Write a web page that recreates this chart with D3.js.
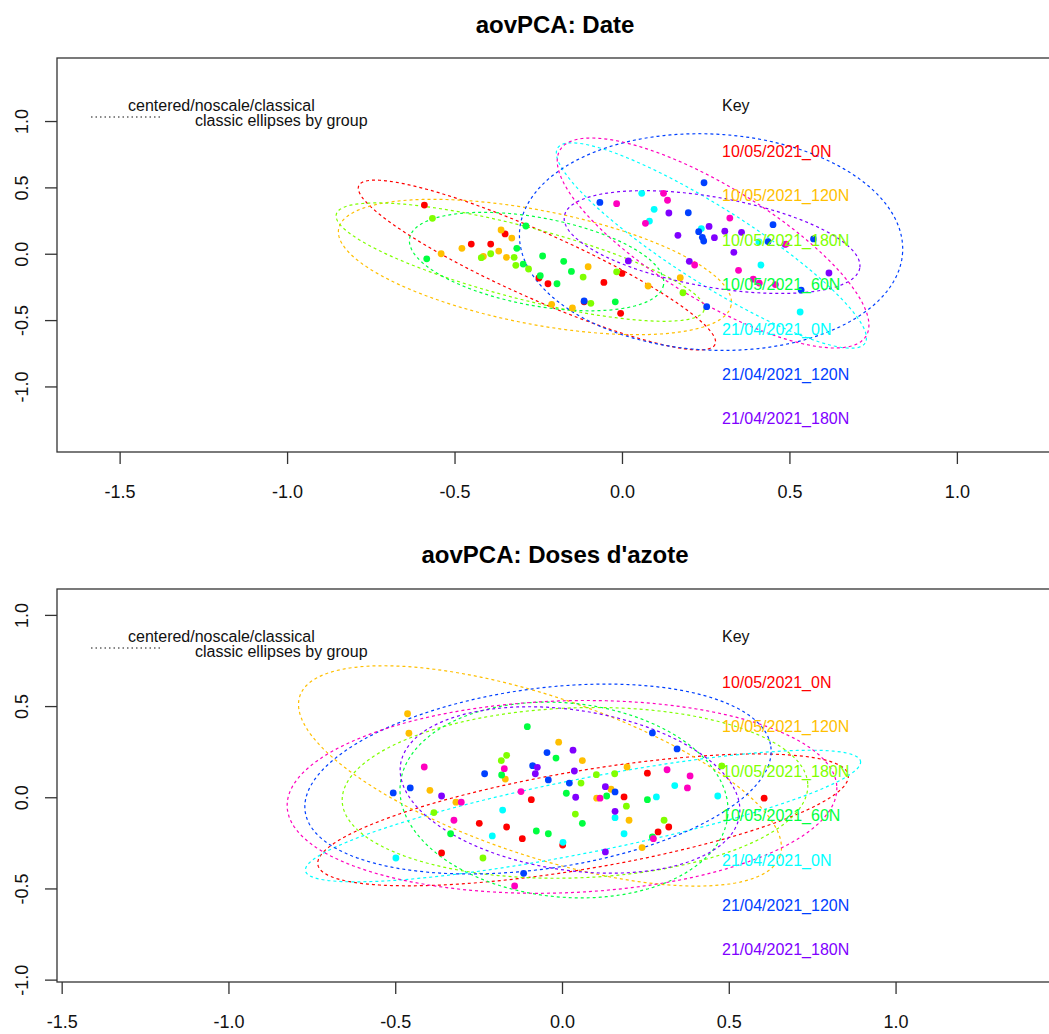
<!DOCTYPE html>
<html>
<head>
<meta charset="utf-8">
<script src="https://cdn.jsdelivr.net/npm/d3@7"></script>
<style>
  body { margin: 0; background: #fff; }
  text { font-family: "Liberation Sans", Arial, sans-serif; }
</style>
</head>
<body>
<svg id="chart"></svg>
<script>
// groups and their colours (rainbow of 8)
const groups = ["10/05/2021_0N", "10/05/2021_120N", "10/05/2021_180N", "10/05/2021_60N",
                "21/04/2021_0N", "21/04/2021_120N", "21/04/2021_180N", "21/04/2021_60N"]
const colours = ["#FF0000", "#FFBF00", "#80FF00", "#00FF40", "#00FFFF", "#0040FF", "#8000FF", "#FF00BF"]

const xTicks = [-1.5, -1.0, -0.5, 0.0, 0.5, 1.0, 1.5]
const yTicks = [-1.0, -0.5, 0.0, 0.5, 1.0]

// scores per group, panel "Date"  [x, y]
const dateScores = [
  [[-0.590,0.367],[-0.349,0.149],[-0.450,0.073],[-0.392,0.073],[-0.248,-0.183],[-0.221,-0.226],[-0.054,-0.216],[-0.113,-0.362],[-0.004,-0.449],[0.000,-0.148]],
  [[-0.361,0.179],[-0.329,0.118],[-0.478,0.041],[-0.368,0.020],[-0.540,0.000],[-0.414,-0.020],[-0.345,-0.027],[-0.101,-0.098],[0.078,-0.243],[-0.210,-0.381],[-0.148,-0.409],[0.174,-0.181]],
  [[-0.566,0.267],[-0.392,0.000],[-0.420,-0.030],[-0.322,-0.027],[-0.317,-0.087],[-0.279,-0.115],[-0.116,-0.176],[-0.016,-0.136],[-0.093,-0.374],[0.182,-0.294]],
  [[-0.287,0.209],[-0.314,0.041],[-0.583,-0.038],[-0.237,-0.017],[-0.174,-0.057],[-0.295,-0.078],[-0.151,-0.133],[-0.244,-0.166],[-0.194,-0.226],[-0.020,-0.362]],
  [[0.059,0.455],[0.096,0.335],[0.082,0.246],[0.237,0.190],[0.409,0.090],[0.415,-0.085],[0.532,-0.439]],
  [[-0.066,0.387],[0.245,0.535],[0.198,0.309],[0.229,0.166],[0.240,0.124],[0.244,0.096],[0.451,0.219],[0.436,0.092],[0.572,0.112],[0.535,-0.274],[0.253,-0.399],[-0.113,-0.356]],
  [[0.140,0.307],[0.260,0.206],[0.307,0.170],[0.357,0.161],[0.167,0.139],[0.276,0.121],[0.487,0.071],[0.334,0.011],[0.019,-0.054],[0.201,-0.057],[0.618,-0.145]],
  [[0.124,0.455],[-0.016,0.377],[0.136,0.403],[0.070,0.229],[0.322,0.269],[0.490,0.073],[0.217,-0.085],[0.348,-0.125],[0.392,-0.192],[0.410,-0.221],[0.458,-0.232]]
]
// ellipse per group: centre x, centre y, axis1 (dx, dy), axis2 (dx, dy)
const dateEllipses = [
  [-0.254,-0.085, 0.532,-0.598, -0.040,-0.227],
  [-0.260,-0.100, 0.586,-0.288, -0.032,-0.421],
  [-0.304,-0.063, 0.549,-0.361, -0.027,-0.262],
  [-0.255,-0.059, 0.379,-0.177, -0.024,-0.326],
  [ 0.267, 0.062, 0.459,-0.735, -0.061,-0.242],
  [ 0.266, 0.088, 0.572,-0.076, -0.017,-0.813],
  [ 0.269, 0.088, 0.441,-0.196, -0.023,-0.334],
  [ 0.272, 0.081, 0.457,-0.701, -0.088,-0.367]
]

// scores per group, panel "Doses d'azote"
const dosesScores = [
  [[-0.092,-0.013],[-0.248,-0.143],[-0.166,-0.163],[-0.119,-0.227],[0.002,-0.262],[-0.361,-0.305],[0.256,0.132],[0.186,0.002],[0.320,-0.163],[0.288,-0.190],[0.606,-0.005]],
  [[-0.463,0.458],[-0.459,0.351],[-0.010,0.302],[-0.170,0.100],[-0.396,0.038],[-0.318,-0.027],[0.061,0.201],[0.195,0.166],[0.147,0.044],[0.104,-0.005],[0.201,-0.126],[0.240,-0.276]],
  [[-0.166,0.230],[-0.182,0.201],[-0.384,-0.084],[0.040,-0.092],[-0.237,-0.333],[0.103,0.124],[0.158,0.129],[0.057,0.078],[0.193,-0.049],[0.306,-0.126],[0.479,0.172]],
  [[-0.104,0.387],[-0.018,0.215],[-0.181,0.122],[0.013,0.022],[-0.334,-0.200],[-0.077,-0.185],[-0.041,-0.200],[0.134,0.007],[0.256,-0.013],[0.061,-0.143],[0.271,-0.218]],
  [[-0.178,-0.070],[-0.209,-0.212],[0.003,-0.247],[-0.498,-0.333],[0.338,0.064],[0.283,0.002],[0.467,0.007],[0.159,-0.112],[0.186,-0.200]],
  [[-0.045,0.245],[-0.232,0.129],[-0.088,0.173],[-0.041,0.095],[0.022,0.078],[-0.506,0.024],[-0.455,0.051],[-0.115,-0.417],[0.271,0.353],[0.345,0.265],[0.159,0.029]],
  [[0.033,0.258],[-0.074,0.164],[-0.080,0.129],[0.037,0.144],[-0.361,0.007],[0.041,0.000],[0.130,0.058],[0.159,-0.077],[0.130,-0.300]],
  [[-0.413,0.166],[-0.173,0.157],[-0.123,0.031],[-0.302,-0.027],[-0.324,-0.126],[-0.142,-0.486],[0.114,-0.005],[0.315,0.151],[0.384,0.117],[0.376,0.051],[0.274,-0.227]]
]
const dosesEllipses = [
  [ 0.063,-0.124, 0.795, 0.246,  0.025,-0.265],
  [-0.066, 0.117, 0.720,-0.438, -0.076,-0.416],
  [ 0.039, 0.024, 0.698, 0.045,  0.009,-0.466],
  [ 0.006,-0.015, 0.491,-0.085, -0.027,-0.530],
  [ 0.063,-0.103, 0.832, 0.301,  0.022,-0.199],
  [-0.072, 0.100, 0.698, 0.179,  0.038,-0.489],
  [ 0.024, 0.040, 0.508,-0.141, -0.036,-0.434],
  [ 0.000, 0.002, 0.824, 0.053,  0.010,-0.526]
]

let width = 1049
let height = 1034

let svg = d3.select('#chart').attr('width', width).attr('height', height)

let panels = [
  {title: "aovPCA: Date", titleY: 25, top: 58, bottom: 452, xDomain: [-1.687, 1.287], yDomain: [-1.494, 1.475],
   scores: dateScores, ellipses: dateEllipses},
  {title: "aovPCA: Doses d'azote", titleY: 555, top: 589, bottom: 982, xDomain: [-1.514, 1.472], yDomain: [-1.013, 1.142],
   scores: dosesScores, ellipses: dosesEllipses}
]
let left = 57, right = 1053
let keyX = 722 // the key sits at the same place in both panels

let fmt = d => d.toFixed(1)

let drawPanel = (p, k) => {
  let x = d3.scaleLinear().domain(p.xDomain).range([left, right])
  let y = d3.scaleLinear().domain(p.yDomain).range([p.bottom, p.top])

  svg.append('text')
    .attr('x', (left + right) / 2).attr('y', p.titleY).attr('dy', '0.35em')
    .attr('text-anchor', 'middle').attr('font-size', 24).attr('font-weight', 'bold')
    .text(p.title)

  svg.append('clipPath').attr('id', 'clip' + k)
    .append('rect').attr('x', left).attr('y', p.top).attr('width', right - left).attr('height', p.bottom - p.top)

  let plot = svg.append('g').attr('clip-path', 'url(#clip' + k + ')')

  // ellipses
  let ts = d3.range(0, 2 * Math.PI, Math.PI / 90)
  let line = d3.line().curve(d3.curveLinearClosed)
  p.ellipses.forEach((e, i) => {
    let pts = ts.map(t => [x(e[0] + e[2] * Math.cos(t) + e[4] * Math.sin(t)),
                           y(e[1] + e[3] * Math.cos(t) + e[5] * Math.sin(t))])
    plot.append('path').attr('d', line(pts))
      .attr('fill', 'none').attr('stroke', colours[i]).attr('stroke-width', 1.2)
      .attr('stroke-dasharray', '3,3')
  })

  // points
  p.scores.forEach((g, i) => {
    plot.selectAll(null).data(g).enter().append('circle')
      .attr('cx', d => x(d[0])).attr('cy', d => y(d[1])).attr('r', 3.4)
      .attr('fill', colours[i])
  })

  // key
  plot.append('text').attr('x', keyX).attr('y', p.top + 47).attr('dy', '0.35em')
    .attr('font-size', 16).attr('fill', '#111').text('Key')
  groups.forEach((g, i) => {
    plot.append('text').attr('x', keyX).attr('y', p.top + 93 + i * 44.6).attr('dy', '0.35em')
      .attr('font-size', 16).attr('fill', colours[i]).text(g)
  })

  // method legend
  plot.append('text').attr('x', 128).attr('y', p.top + 47).attr('dy', '0.35em')
    .attr('font-size', 16).attr('fill', '#111').text('centered/noscale/classical')
  plot.append('text').attr('x', 195).attr('y', p.top + 62).attr('dy', '0.35em')
    .attr('font-size', 16).attr('fill', '#111').text('classic ellipses by group')
  plot.append('line').attr('x1', 91).attr('x2', 161).attr('y1', p.top + 59).attr('y2', p.top + 59)
    .attr('stroke', '#111').attr('stroke-width', 1).attr('stroke-dasharray', '1.5,3')

  // box
  svg.append('rect').attr('x', left).attr('y', p.top).attr('width', right - left).attr('height', p.bottom - p.top)
    .attr('fill', 'none').attr('stroke', '#333').attr('stroke-width', 1.3)

  // axes
  let xAxis = d3.axisBottom(x).tickValues(xTicks.filter(v => x(v) < width)).tickSize(12).tickFormat(fmt)
  let gx = svg.append('g').attr('transform', 'translate(0,' + p.bottom + ')').call(xAxis)
  gx.select('.domain').remove()
  gx.selectAll('line').attr('stroke', '#333').attr('stroke-width', 1.3)
  gx.selectAll('text').attr('y', 40).attr('dy', '0.35em').attr('font-size', 18).attr('fill', '#111')
    .attr('font-family', '"Liberation Sans", Arial, sans-serif')

  let yAxis = d3.axisLeft(y).tickValues(yTicks).tickSize(12).tickFormat(fmt)
  let gy = svg.append('g').attr('transform', 'translate(' + left + ',0)').call(yAxis)
  gy.select('.domain').remove()
  gy.selectAll('line').attr('stroke', '#333').attr('stroke-width', 1.3)
  gy.selectAll('text').attr('x', 0).attr('y', 0).attr('dy', '0.35em')
    .attr('transform', 'translate(-35,0) rotate(-90)').attr('text-anchor', 'middle')
    .attr('font-size', 18).attr('fill', '#111')
    .attr('font-family', '"Liberation Sans", Arial, sans-serif')
}

panels.forEach(drawPanel)
</script>
</body>
</html>
